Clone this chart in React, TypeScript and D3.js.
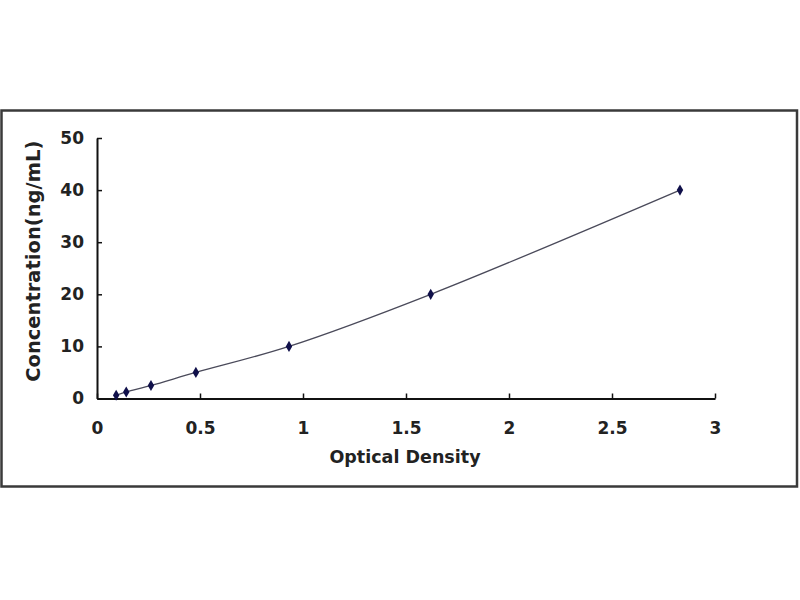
import { useEffect, useRef } from 'react';
import * as d3 from 'd3';

const WIDTH = 800;
const HEIGHT = 600;
const PLOT = { left: 97, right: 715, top: 138, bottom: 398.5 };

// standard curve readings
const opticalDensity = [0.093, 0.142, 0.262, 0.48, 0.932, 1.62, 2.83];
const concentration = [0.625, 1.25, 2.5, 5, 10, 20, 40];
const xTicks = [0, 0.5, 1, 1.5, 2, 2.5, 3];
const yTicks = [0, 10, 20, 30, 40, 50];

const FONT = '"DejaVu Sans", Arial, sans-serif';
const INK = '#222';

export default function App() {
  const svgRef = useRef<SVGSVGElement>(null);

  useEffect(() => {
    if (!svgRef.current) return;
    d3.select(svgRef.current).selectAll('*').remove();
    const svg = d3.select(svgRef.current);

    svg.append('rect').attr('width', WIDTH).attr('height', HEIGHT).attr('fill', '#fff');

    // outer frame
    svg
      .append('rect')
      .attr('x', 1.5)
      .attr('y', 110.5)
      .attr('width', 795.5)
      .attr('height', 376)
      .attr('fill', 'none')
      .attr('stroke', '#3a3a3a')
      .attr('stroke-width', 2.5);

    const x = d3.scaleLinear().domain([0, 3]).range([PLOT.left, PLOT.right]);
    const y = d3.scaleLinear().domain([0, 50]).range([PLOT.bottom, PLOT.top]);

    const xAxis = d3
      .axisBottom(x)
      .tickValues(xTicks)
      .tickSizeInner(-5)
      .tickSizeOuter(0)
      .tickPadding(23)
      .tickFormat((v) => String(v));
    const gx = svg.append('g').attr('transform', `translate(0,${PLOT.bottom})`).call(xAxis);

    const yAxis = d3
      .axisLeft(y)
      .tickValues(yTicks)
      .tickSizeInner(-5)
      .tickSizeOuter(0)
      .tickPadding(13)
      .tickFormat((v) => String(v));
    const gy = svg.append('g').attr('transform', `translate(${PLOT.left},0)`).call(yAxis);

    [gx, gy].forEach((g) => {
      g.select('.domain').attr('stroke', '#111').attr('stroke-width', 2);
      g.selectAll('.tick line').attr('stroke', '#111').attr('stroke-width', 1.5);
      g.selectAll('.tick text')
        .attr('fill', INK)
        .attr('font-family', FONT)
        .attr('font-weight', 'bold')
        .attr('font-size', 17);
    });

    const pts = opticalDensity.map((od, i) => ({ od, c: concentration[i] }));

    const line = d3
      .line<{ od: number; c: number }>()
      .x((d) => x(d.od))
      .y((d) => y(d.c))
      .curve(d3.curveCatmullRom.alpha(0.5));

    svg
      .append('path')
      .datum(pts)
      .attr('fill', 'none')
      .attr('stroke', '#4a4a5a')
      .attr('stroke-width', 1.3)
      .attr('d', line);

    svg
      .selectAll('path.marker')
      .data(pts)
      .enter()
      .append('path')
      .attr('class', 'marker')
      .attr('transform', (d) => `translate(${x(d.od)},${y(d.c)})`)
      .attr('d', d3.symbol(d3.symbolDiamond, 36)())
      .attr('fill', '#10104a');

    svg
      .append('text')
      .attr('x', 405)
      .attr('y', 463)
      .attr('text-anchor', 'middle')
      .attr('font-family', FONT)
      .attr('font-weight', 'bold')
      .attr('font-size', 17.5)
      .attr('fill', INK)
      .text('Optical Density');

    svg
      .append('text')
      .attr('transform', `translate(40,${(PLOT.top + PLOT.bottom) / 2 - 7}) rotate(-90)`)
      .attr('text-anchor', 'middle')
      .attr('font-family', FONT)
      .attr('font-weight', 'bold')
      .attr('font-size', 19.5)
      .attr('fill', INK)
      .text('Concentration(ng/mL)');
  }, []);

  return (
    <svg
      ref={svgRef}
      width={WIDTH}
      height={HEIGHT}
      style={{ position: 'absolute', left: 0, top: 0 }}
    />
  );
}
